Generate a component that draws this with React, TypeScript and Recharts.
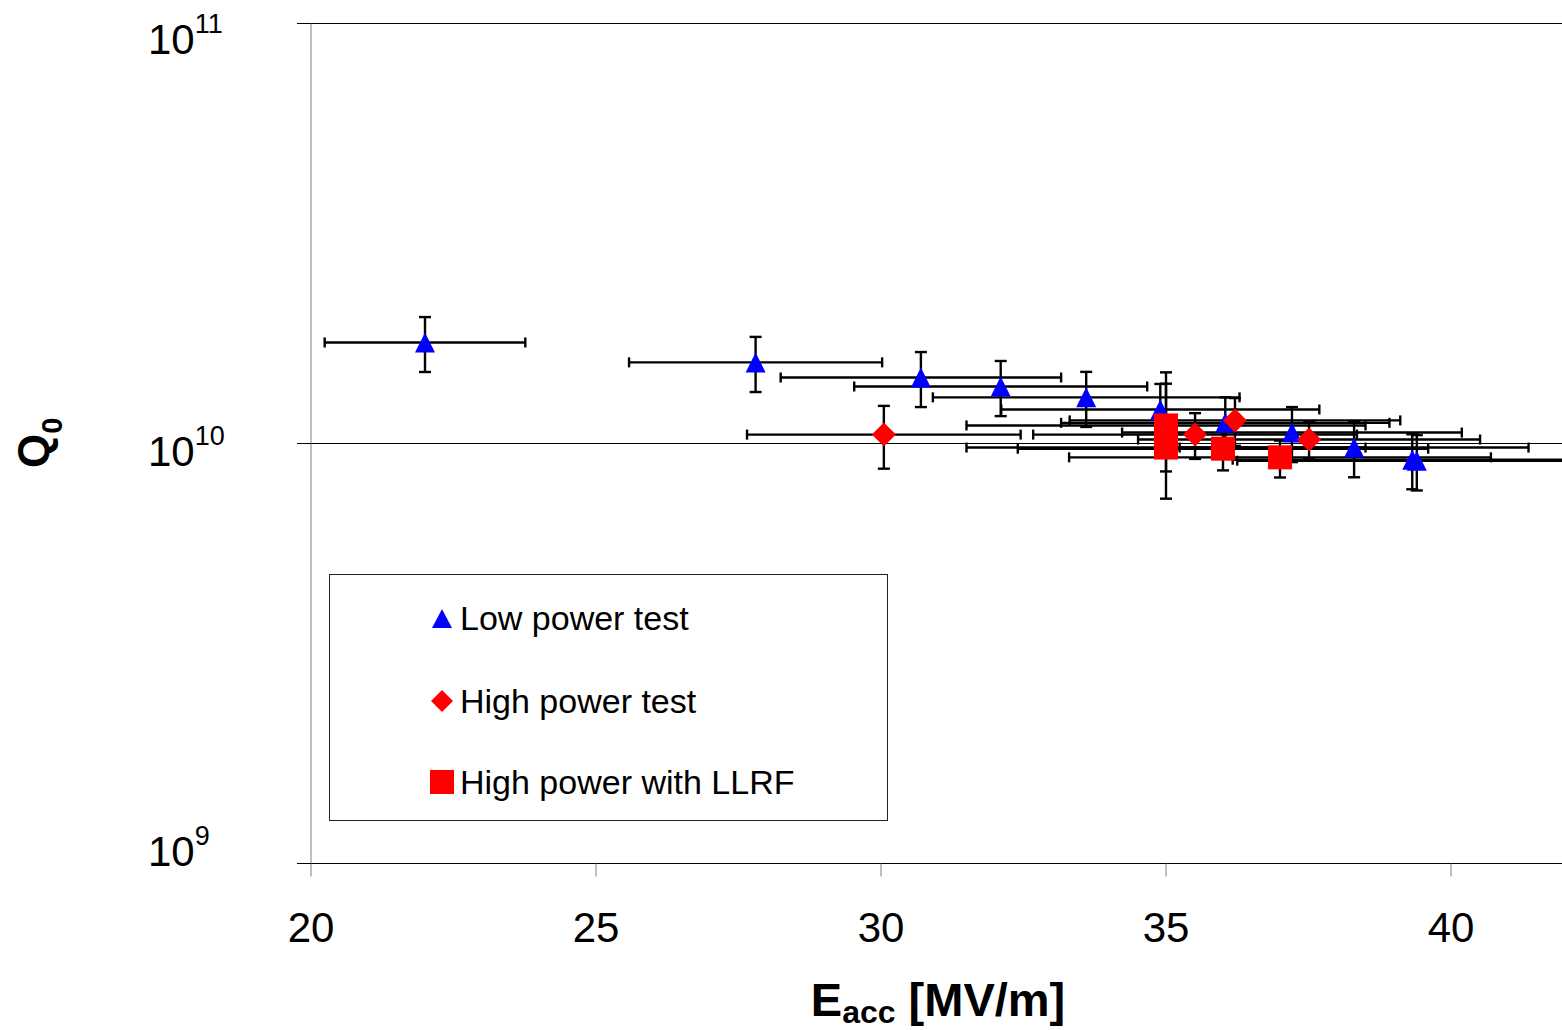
import React from 'react';
import { ScatterChart, Scatter, XAxis, YAxis, CartesianGrid, ErrorBar, Legend } from 'recharts';

const FONT = "'Liberation Sans', Arial, Helvetica, sans-serif";

// Low power test (blue triangles)
const lowPowerE = [22.0, 27.8, 30.7, 32.1, 33.6, 34.9, 36.04, 37.21, 38.3, 39.32, 39.4];
const lowPowerQ = [1.74e10, 1.56e10, 1.436e10, 1.367e10, 1.288e10, 1.205e10, 1.12e10, 1.062e10, 9.78e9, 9.15e9, 9.1e9];
const lowPowerEErr = [1.76, 2.22, 2.46, 2.57, 2.69, 2.79, 2.88, 2.98, 3.06, 3.15, 3.15];
const lowPowerQErr = [2.6e9, 2.34e9, 2.15e9, 2.05e9, 1.93e9, 1.81e9, 1.68e9, 1.59e9, 1.47e9, 1.37e9, 1.37e9];

// High power test (red diamonds)
const highPowerE = [30.05, 35.51, 36.21, 37.51];
const highPowerQ = [1.05e10, 1.05e10, 1.135e10, 1.022e10];
const highPowerEErr = [2.4, 2.84, 2.9, 3.0];
const highPowerQErr = [1.79e9, 1.31e9, 1.48e9, 1.02e9];

// High power with LLRF (red squares)
const llrfE = [35.0, 35.0, 36.0, 37.0];
const llrfQ = [1.104e10, 9.78e9, 9.72e9, 9.27e9];
const llrfEErr = [3.5, 3.5, 3.6, 3.7];
const llrfQErrLow = [2.46e9, 2.39e9, 1.09e9, 0.97e9];
const llrfQErrHigh = [3.73e9, 4.1e9, 1.07e9, 0.89e9];

const xTicks = [20, 25, 30, 35, 40];
const yTicks = [1e9, 1e10, 1e11];
const legendLabels = ['Low power test', 'High power test', 'High power with LLRF'];

const lowPowerData = lowPowerE.map((e, i) => ({ x: e, y: lowPowerQ[i], ex: lowPowerEErr[i], ey: [lowPowerQErr[i], lowPowerQErr[i]] }));
const highPowerData = highPowerE.map((e, i) => ({ x: e, y: highPowerQ[i], ex: highPowerEErr[i], ey: [highPowerQErr[i], highPowerQErr[i]] }));
const llrfData = llrfE.map((e, i) => ({ x: e, y: llrfQ[i], ex: llrfEErr[i], ey: [llrfQErrLow[i], llrfQErrHigh[i]] }));

const BLUE = '#0000ff';
const RED = '#ff0000';
const EB_W = 2.4;

const TriangleShape = (p: any) => {
  const { cx, cy } = p;
  if (cx == null || cy == null) return <g />;
  return <polygon points={`${cx - 10},${cy + 10} ${cx + 10},${cy + 10} ${cx},${cy - 10}`} fill={BLUE} />;
};
const DiamondShape = (p: any) => {
  const { cx, cy } = p;
  if (cx == null || cy == null) return <g />;
  return <polygon points={`${cx},${cy - 12} ${cx + 12},${cy} ${cx},${cy + 12} ${cx - 12},${cy}`} fill={RED} />;
};
const SquareShape = (p: any) => {
  const { cx, cy } = p;
  if (cx == null || cy == null) return <g />;
  return <rect x={cx - 12} y={cy - 12} width={24} height={24} fill={RED} />;
};
const EmptyShape = () => <g />;

const YTick = (props: any) => {
  const { y, payload } = props;
  const exp = Math.round(Math.log10(payload.value));
  const dy = exp === 11 ? 30 : exp === 10 ? 22 : 2;
  return (
    <text x={148} y={y + dy} fontFamily={FONT} fontSize={42} fill="#000" textAnchor="start">
      <tspan>10</tspan>
      <tspan fontSize={27} dy={-21}>{exp}</tspan>
    </text>
  );
};

const XTick = (props: any) => {
  const { x, payload } = props;
  return (
    <text x={x} y={942} fontFamily={FONT} fontSize={42} fill="#000" textAnchor="middle">
      {payload.value}
    </text>
  );
};

const XLabel = (props: any) => {
  const vb = props.viewBox || {};
  const cx = (vb.x ?? 311) + (vb.width ?? 1254) / 2;
  return (
    <text x={cx} y={1016} fontFamily={FONT} fontWeight="bold" fontSize={47} fill="#000" textAnchor="middle">
      <tspan>E</tspan>
      <tspan fontSize={32} dy={7}>acc</tspan>
      <tspan dy={-7}> [MV/m]</tspan>
    </text>
  );
};

const YLabel = () => (
  <text x={49} y={468} transform="rotate(-90 49 468)" fontFamily={FONT} fontWeight="bold" fontSize={44} fill="#000" textAnchor="start">
    <tspan>Q</tspan>
    <tspan fontSize={29} dy={13}>0</tspan>
  </text>
);

const rowCenters = [43, 126, 207];

const LegendIcon = ({ i }: { i: number }) => (
  <svg width={26} height={26} style={{ position: 'absolute', left: 99, top: rowCenters[i] - 13 }}>
    {i === 0 && <polygon points="3,23 23,23 13,4" fill={BLUE} />}
    {i === 1 && <polygon points="13,2 24,13 13,24 2,13" fill={RED} />}
    {i === 2 && <rect x={1} y={1} width={24} height={24} fill={RED} />}
  </svg>
);

const LegendBox = () => (
  <div
    style={{
      position: 'relative',
      width: 559,
      height: 247,
      border: '1px solid #222',
      boxSizing: 'border-box',
      background: '#fff',
      fontFamily: FONT,
      fontSize: 34,
      color: '#000',
    }}
  >
    {legendLabels.map((label, i) => (
      <React.Fragment key={label}>
        <LegendIcon i={i} />
        <span style={{ position: 'absolute', left: 130, top: rowCenters[i] - 19, lineHeight: '38px', whiteSpace: 'nowrap' }}>
          {label}
        </span>
      </React.Fragment>
    ))}
  </div>
);

export default function App() {
  return (
    <div style={{ position: 'absolute', left: 0, top: 0, width: 1562, height: 1030, overflow: 'hidden', background: '#fff' }}>
      <ScatterChart width={1565} height={1030.5} margin={{ top: 23.5, right: 0, bottom: 0, left: 0 }}>
        <CartesianGrid vertical={false} stroke="#000" strokeOpacity={1} strokeWidth={1} />
        <XAxis
          type="number"
          dataKey="x"
          domain={[20, 42]}
          ticks={xTicks}
          allowDataOverflow
          height={167}
          tickSize={13}
          tickMargin={0}
          axisLine={{ stroke: '#000', strokeWidth: 1 }}
          tickLine={{ stroke: '#808080', strokeWidth: 1 }}
          tick={<XTick />}
          interval={0}
          label={{ content: (p: any) => <XLabel {...p} /> }}
        />
        <YAxis
          type="number"
          dataKey="y"
          scale="log"
          domain={[1e9, 1e11]}
          ticks={yTicks}
          allowDataOverflow
          width={311}
          tickSize={14}
          axisLine={{ stroke: '#808080', strokeWidth: 1 }}
          tickLine={{ stroke: '#000', strokeWidth: 1 }}
          tick={<YTick />}
          interval={0}
          label={{ content: () => <YLabel /> }}
        />
        <Legend
          layout="vertical"
          align="center"
          verticalAlign="middle"
          wrapperStyle={{ left: 329, top: 574, width: 559, height: 247 }}
          content={() => <LegendBox />}
        />
        {/* error bars first so all markers sit on top */}
        <Scatter name="lp-err" data={lowPowerData} shape={EmptyShape} isAnimationActive={false} legendType="none">
          <ErrorBar dataKey="ex" direction="x" width={5} stroke="#000" strokeWidth={EB_W} isAnimationActive={false} />
          <ErrorBar dataKey="ey" direction="y" width={6} stroke="#000" strokeWidth={EB_W} isAnimationActive={false} />
        </Scatter>
        <Scatter name="hp-err" data={highPowerData} shape={EmptyShape} isAnimationActive={false} legendType="none">
          <ErrorBar dataKey="ex" direction="x" width={5} stroke="#000" strokeWidth={EB_W} isAnimationActive={false} />
          <ErrorBar dataKey="ey" direction="y" width={6} stroke="#000" strokeWidth={EB_W} isAnimationActive={false} />
        </Scatter>
        <Scatter name="llrf-err" data={llrfData} shape={EmptyShape} isAnimationActive={false} legendType="none">
          <ErrorBar dataKey="ex" direction="x" width={5} stroke="#000" strokeWidth={EB_W} isAnimationActive={false} />
          <ErrorBar dataKey="ey" direction="y" width={6} stroke="#000" strokeWidth={EB_W} isAnimationActive={false} />
        </Scatter>
        <Scatter name="Low power test" data={lowPowerData} shape={TriangleShape} fill={BLUE} isAnimationActive={false} />
        <Scatter name="High power test" data={highPowerData} shape={DiamondShape} fill={RED} isAnimationActive={false} />
        <Scatter name="High power with LLRF" data={llrfData} shape={SquareShape} fill={RED} isAnimationActive={false} />
      </ScatterChart>
    </div>
  );
}
